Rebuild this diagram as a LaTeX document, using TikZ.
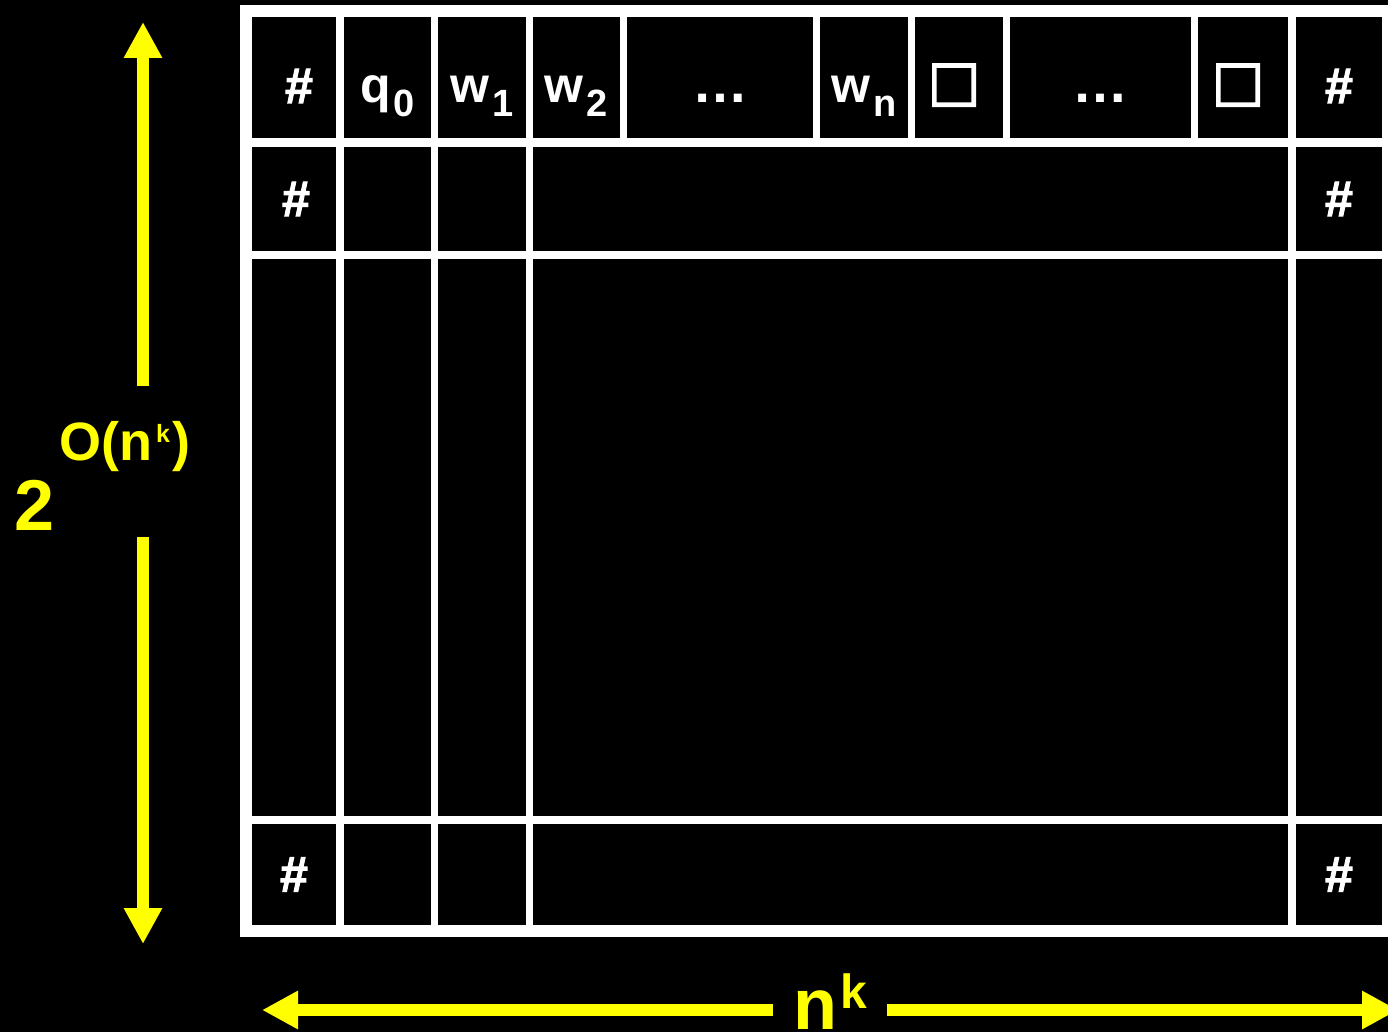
\documentclass[tikz,border=0pt]{standalone}
\usepackage{fontspec}
\setmainfont{Liberation Sans}
\usetikzlibrary{arrows.meta,positioning,calc}

\newcommand{\tapefont}{\fontsize{50}{50}\selectfont\bfseries}
\newcommand{\tsub}[1]{\kern3pt\raisebox{-14pt}{\fontsize{38}{38}\selectfont #1}}
\newcommand{\tblank}{\kern-10pt\raisebox{-3pt}{□}}
\newcommand{\thash}{{\addfontfeatures{FakeBold=2}\#}}

\begin{document}
\begin{tikzpicture}[x=1pt, y=-1pt,
    cell/.style={fill=black, inner sep=0pt, outer sep=0pt, anchor=north west, text=white, font=\tapefont},
    toprow/.style={cell, minimum height=121pt, text height=51pt, text depth=0pt},
    secrow/.style={cell, minimum height=104pt},
    bigrow/.style={cell, minimum height=557pt},
    lastrow/.style={cell, minimum height=101pt},
    dots/.style={font=\fontsize{56}{56}\selectfont\bfseries},
    blank/.style={font=\fontsize{70}{70}\selectfont\bfseries\addfontfeatures{FakeBold=3}},
    ylabel/.style={text=tapeyellow, inner sep=0pt, font=\bfseries},
    yarrow/.style={draw=tapeyellow, line width=12pt, -{Triangle[length=36pt,width=36pt]}}]
    % Color Palette
    \definecolor{tapeyellow}{HTML}{FFFF00}

    \useasboundingbox (0,0) rectangle (1388,1032);
    \fill[black] (0,0) rectangle (1388,1032);

    % --- Tableau frame ---
    \fill[white] (240,5) rectangle (1394,937);

    % --- First row: start configuration ---
    \node[toprow, minimum width=84pt] (t1) at (252,17) {\kern10pt\thash};
    \node[toprow, minimum width=87pt] (t2) at (344,17) {q\tsub{0}};
    \node[toprow, minimum width=88pt] (t3) at (438,17) {w\tsub{1}};
    \node[toprow, minimum width=87pt] (t4) at (533,17) {w\tsub{2}};
    \node[toprow, minimum width=186pt, dots] (t5) at (627,17) {…};
    \node[toprow, minimum width=88pt] (t6) at (820,17) {w\tsub{n}};
    \node[toprow, minimum width=88pt, blank] (t7) at (915,17) {\tblank};
    \node[toprow, minimum width=181pt, dots] (t8) at (1010,17) {…};
    \node[toprow, minimum width=90pt, blank] (t9) at (1198,17) {\tblank};
    \node[toprow, minimum width=86pt] (t10) at (1296,17) {\thash};

    % --- Second row ---
    \node[secrow, minimum width=84pt] (s1) at (252,147) {\kern4pt\thash};
    \node[secrow, minimum width=87pt] (s2) at (344,147) {};
    \node[secrow, minimum width=88pt] (s3) at (438,147) {};
    \node[secrow, minimum width=755pt] (s4) at (533,147) {};
    \node[secrow, minimum width=86pt] (s5) at (1296,147) {\thash};

    % --- Middle rows ---
    \node[bigrow, minimum width=84pt] (m1) at (252,259) {};
    \node[bigrow, minimum width=87pt] (m2) at (344,259) {};
    \node[bigrow, minimum width=88pt] (m3) at (438,259) {};
    \node[bigrow, minimum width=755pt] (m4) at (533,259) {};
    \node[bigrow, minimum width=86pt] (m5) at (1296,259) {};

    % --- Last row ---
    \node[lastrow, minimum width=84pt] (l1) at (252,824) {\thash};
    \node[lastrow, minimum width=87pt] (l2) at (344,824) {};
    \node[lastrow, minimum width=88pt] (l3) at (438,824) {};
    \node[lastrow, minimum width=755pt] (l4) at (533,824) {};
    \node[lastrow, minimum width=86pt] (l5) at (1296,824) {\thash};

    % --- Height: 2^{O(n^k)} ---
    \node[ylabel, anchor=base west] (vlabel) at (14,530)
        {\fontsize{72}{72}\selectfont 2\kern5pt\raisebox{70pt}{\fontsize{54}{54}\selectfont O(n\kern4pt\raisebox{18pt}{\fontsize{25}{25}\selectfont k}\kern2pt)}};
    \coordinate (vtop) at (143,22);
    \coordinate (vup) at (143,386);
    \coordinate (vdown) at (143,537);
    \coordinate (vbot) at (143,944);
    \draw[yarrow] (vup) -- (vtop);
    \draw[yarrow] (vdown) -- (vbot);

    % --- Width: n^k ---
    \node[ylabel, inner xsep=20pt, anchor=base] (hlabel) at (830,1029)
        {\fontsize{72}{72}\selectfont n\kern3pt\raisebox{21pt}{\fontsize{48}{48}\selectfont k}};
    \coordinate (hleft) at (262,1010);
    \coordinate (hright) at (1398,1010);
    \draw[yarrow] (hlabel.west |- hleft) -- (hleft);
    \draw[yarrow] (hlabel.east |- hright) -- (hright);

\end{tikzpicture}
\end{document}
